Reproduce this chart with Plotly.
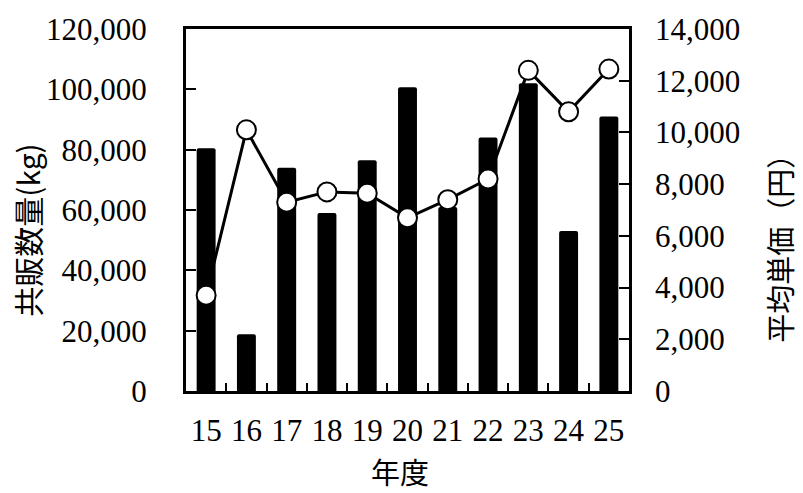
import plotly.graph_objects as go

years = ["15", "16", "17", "18", "19", "20", "21", "22", "23", "24", "25"]
volume_kg = [80500, 18800, 74000, 59000, 76500, 100700, 61000, 84000, 102000, 53000, 91000]
avg_price = [3700, 10100, 7300, 7700, 7650, 6700, 7400, 8200, 12400, 10800, 12450]

left_ticks = [0, 20000, 40000, 60000, 80000, 100000, 120000]
right_ticks = [0, 2000, 4000, 6000, 8000, 10000, 12000, 14000]

serif = "Liberation Serif, Times New Roman, serif"
cjk = "Noto Sans CJK JP, sans-serif"

fig = go.Figure()
fig.add_trace(go.Bar(
    x=years, y=volume_kg, marker=dict(color="black", line=dict(width=0), cornerradius=2),
    width=0.47, yaxis="y", showlegend=False,
))
fig.add_trace(go.Scatter(
    x=years, y=avg_price, yaxis="y2", mode="lines+markers",
    line=dict(color="black", width=3),
    marker=dict(symbol="circle", size=19, color="white", line=dict(color="black", width=2)),
    showlegend=False,
))

fig.update_layout(
    width=803, height=493,
    margin=dict(l=186, r=174, t=23.5, b=101.5),
    paper_bgcolor="white", plot_bgcolor="white",
    bargap=0.53,
    xaxis=dict(
        type="category", range=[-0.5, len(years) - 0.5],
        showline=True, linecolor="black", linewidth=3, mirror=True,
        ticks="inside", tickson="boundaries", ticklen=8, tickwidth=1.5, tickcolor="black",
        tickfont=dict(family=serif, size=31, color="black"), tickangle=0,
        ticklabelstandoff=10, showgrid=False,
    ),
    yaxis=dict(
        range=[0, 120000], tickvals=left_ticks,
        ticktext=[f"{v:,}" for v in left_ticks],
        showline=True, linecolor="black", linewidth=3, mirror=True,
        ticks="inside", ticklen=10, tickwidth=1.5, tickcolor="black",
        tickfont=dict(family=serif, size=31, color="black"),
        ticklabelstandoff=30, showgrid=False, zeroline=False,
    ),
    yaxis2=dict(
        range=[0, 14000], tickvals=right_ticks,
        ticktext=[f"{v:,}" for v in right_ticks],
        overlaying="y", side="right", showline=False,
        ticks="inside", ticklen=10, tickwidth=1.5, tickcolor="black",
        tickfont=dict(family=serif, size=31, color="black"),
        ticklabelstandoff=25, showgrid=False, zeroline=False,
    ),
    annotations=[
        dict(text="共販数量(kg)", xref="paper", yref="paper", x=-0.358, y=0.444,
             textangle=-90, showarrow=False, xanchor="center", yanchor="middle",
             font=dict(family=cjk, size=30, color="black")),
        dict(text="平均単価（円）", xref="paper", yref="paper", x=1.34, y=0.414,
             textangle=-90, showarrow=False, xanchor="center", yanchor="middle",
             font=dict(family=cjk, size=29, color="black")),
        dict(text="年度", xref="paper", yref="paper", x=0.483, y=-0.221,
             showarrow=False, xanchor="center", yanchor="middle",
             font=dict(family=cjk, size=29, color="black")),
    ],
)

fig.write_html("out.html")
